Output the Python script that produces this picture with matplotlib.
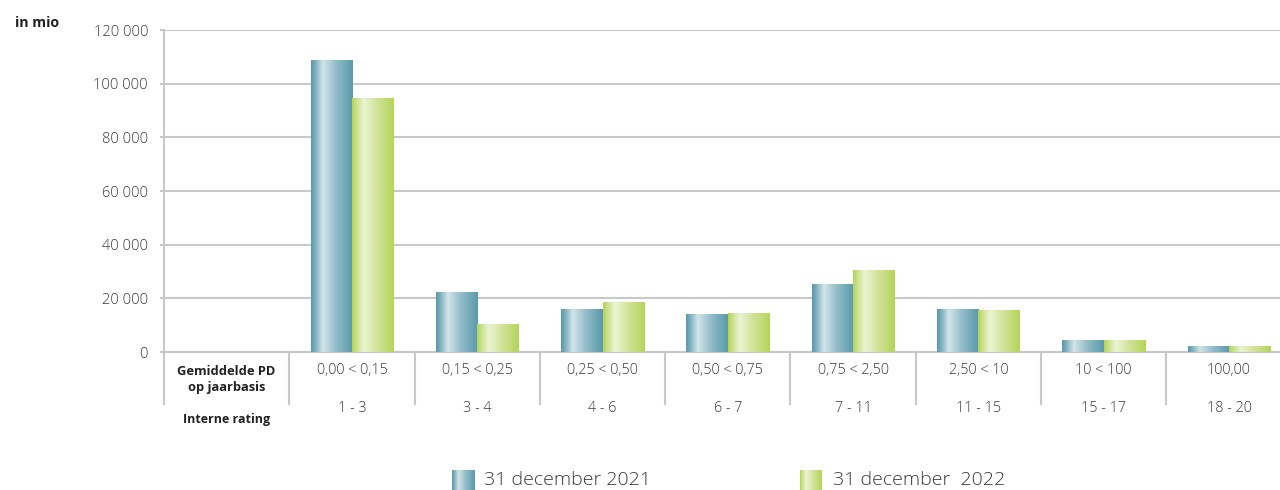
import numpy as np
import matplotlib.pyplot as plt
from matplotlib.colors import LinearSegmentedColormap

plt.rcParams['font.family'] = ['Open Sans', 'DejaVu Sans']

pd_labels = ["0,00 < 0,15", "0,15 < 0,25", "0,25 < 0,50", "0,50 < 0,75",
             "0,75 < 2,50", "2,50 < 10", "10 < 100", "100,00"]
rating_labels = ["1 - 3", "3 - 4", "4 - 6", "6 - 7", "7 - 11", "11 - 15", "15 - 17", "18 - 20"]
dec_2021 = [108800, 22000, 16000, 13800, 25300, 16000, 4100, 1900]
dec_2022 = [94600, 10400, 18300, 14500, 30200, 15300, 4100, 1900]
series_names = ["31 december 2021", "31 december  2022"]
yticks = [0, 20000, 40000, 60000, 80000, 100000, 120000]

teal = LinearSegmentedColormap.from_list(
    "teal", [(0, "#5b9aab"), (0.08, "#76abb9"), (0.28, "#d2e5ea"), (0.6, "#92bcc8"), (1, "#5b9aab")])
green = LinearSegmentedColormap.from_list(
    "green", [(0, "#b5d45a"), (0.08, "#c6de82"), (0.28, "#ecf4d4"), (0.6, "#d2e39a"), (1, "#b5d55a")])
grad = np.linspace(0, 1, 64).reshape(1, -1)

grid_c = "#c8c8c8"
text_c = "#3a3a3a"

fig = plt.figure(figsize=(12.8, 4.9), dpi=100)
ax = fig.add_axes([164 / 1280, 138 / 490, 1 - 164 / 1280, 322 / 490])

x = np.arange(1, len(pd_labels) + 1)
w = 0.33
for xs, vals, cmap in [(x - w / 2, dec_2021, teal), (x + w / 2, dec_2022, green)]:
    bars = ax.bar(xs, vals, width=w, color="none", edgecolor="none")
    for b in bars:
        x0, y0 = b.get_x(), b.get_y()
        ax.imshow(grad, cmap=cmap, aspect="auto", interpolation="bicubic",
                  extent=(x0, x0 + b.get_width(), y0, y0 + b.get_height()), zorder=3)

ax.set_xlim(-0.5, 8.407)
ax.set_ylim(0, 120000)
ax.set_yticks(yticks)
ax.set_yticklabels([f"{v:,}".replace(",", " ") for v in yticks], fontsize=10.5,
                   color=text_c, fontweight="light")
ax.set_xticks([])
ax.tick_params(axis="y", length=3, color=grid_c, width=1.5, pad=8.5)
ax.grid(True, axis="y", color=grid_c, lw=1.5, zorder=0)
ax.set_axisbelow(True)
for s in ["top", "right"]:
    ax.spines[s].set_visible(False)
for s in ["left", "bottom"]:
    ax.spines[s].set_color(grid_c)
    ax.spines[s].set_linewidth(1.5)

# table lines below the axis
tr = ax.get_xaxis_transform()
ax.plot([-0.5, -0.5], [0, -0.161], transform=tr, color=grid_c, lw=1.5, clip_on=False)
for b in np.arange(0.5, 8, 1):
    ax.plot([b, b], [0, -0.161], transform=tr, color=grid_c, lw=1.5, clip_on=False)

for xi, p, r in zip(x, pd_labels, rating_labels):
    ax.text(xi, -0.056, p, transform=tr, ha="center", va="center", fontsize=10.4,
            color=text_c, fontweight="light")
    ax.text(xi, -0.174, r, transform=tr, ha="center", va="center", fontsize=10.4,
            color=text_c, fontweight="light")
ax.text(0, -0.084, "Gemiddelde PD\nop jaarbasis", transform=tr, ha="center", va="center",
        fontsize=9.3, fontweight="bold", color="#222222", linespacing=1.3)
ax.text(0, -0.211, "Interne rating", transform=tr, ha="center", va="center",
        fontsize=9.0, fontweight="bold", color="#222222")

fig.text(15 / 1280, 1 - 23 / 490, "in mio", ha="left", va="center",
         fontsize=10.2, fontweight="bold", color="#222222")

# legend
for sx, tx, cmap, name in [(452, 484, teal, series_names[0]), (800, 833, green, series_names[1])]:
    lax = fig.add_axes([sx / 1280, 0, 22 / 1280, 20 / 490])
    lax.imshow(grad, cmap=cmap, aspect="auto", interpolation="bicubic")
    lax.axis("off")
    fig.text(tx / 1280, 1 - 480 / 490, name, ha="left", va="center", fontsize=14,
             color=text_c, fontweight="light")

fig.savefig("out.png", dpi=100, facecolor="white")
